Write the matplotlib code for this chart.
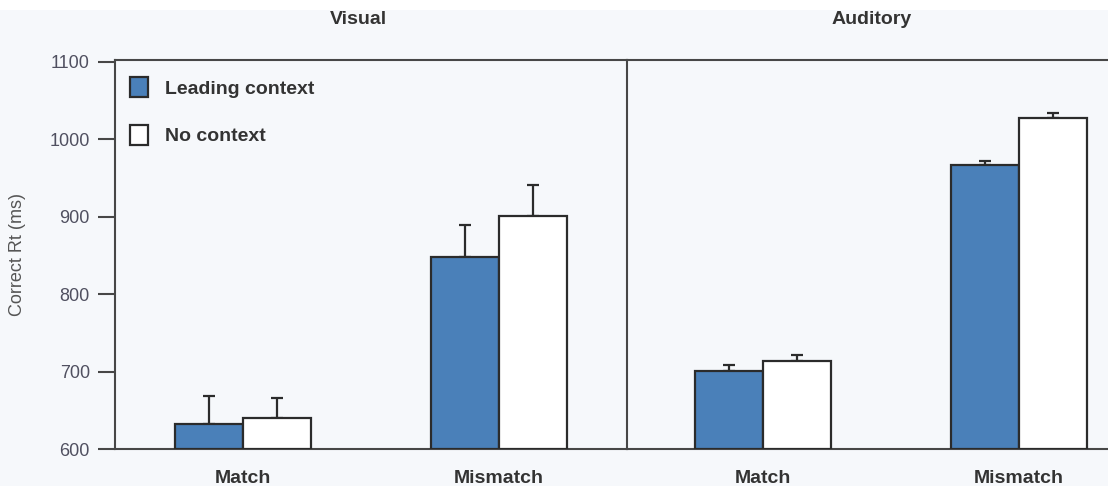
import matplotlib
matplotlib.use("Agg")
import matplotlib.pyplot as plt
from matplotlib.patches import Patch, Rectangle
import numpy as np

plt.rcParams['font.family'] = ['Liberation Sans', 'DejaVu Sans']

# Reaction times (ms) by modality, condition and context
modalities = ["Visual", "Auditory"]
conditions = ["Match", "Mismatch"]
series_names = ["Leading context", "No context"]

visual_leading = [632, 848]
visual_none = [640, 901]
auditory_leading = [701, 966]
auditory_none = [714, 1027]

visual_leading_err = [36, 41]
visual_none_err = [26, 40]
auditory_leading_err = [8, 6]
auditory_none_err = [7, 7]

y_ticks = [600, 700, 800, 900, 1000, 1100]

BG = "#f6f8fb"
BLUE = "#4a80b9"
EDGE = "#2b2b2b"
SPINE = "#474747"
TEXT = "#333333"
TICKTXT = "#505060"

W, H = 1108, 486
fig = plt.figure(figsize=(W / 100, H / 100), dpi=100, facecolor=BG)
fig.patches.append(Rectangle((0, 1 - 10 / H), 1, 10 / H, transform=fig.transFigure,
                             facecolor="white", edgecolor="none", zorder=0))

bottom = 37 / H
height = 389 / H
pw = 512 / W
ax_v = fig.add_axes([115 / W, bottom, pw, height])
ax_a = fig.add_axes([627 / W, bottom, pw, height])

panels = [
    (ax_v, visual_leading, visual_none, visual_leading_err, visual_none_err, (-0.5, 1.5)),
    (ax_a, auditory_leading, auditory_none, auditory_leading_err, auditory_none_err, (-0.53, 1.47)),
]

bw = 0.266
x = np.arange(len(conditions))
for ax, lead, none, lerr, nerr, xl in panels:
    ax.set_facecolor(BG)
    for xs, vals, errs, fc in [(x - bw / 2, lead, lerr, BLUE), (x + bw / 2, none, nerr, "white")]:
        ax.bar(xs, np.array(vals) - 600, bottom=600, width=bw, color=fc,
               edgecolor=EDGE, linewidth=1.6, zorder=3)
        ax.errorbar(xs, vals, yerr=[np.zeros(len(errs)), errs], fmt="none",
                    ecolor=EDGE, elinewidth=1.6, capsize=4.5, capthick=1.6, zorder=2)
    ax.set_xlim(*xl)
    ax.set_ylim(600, 1102)
    ax.set_xticks(x)
    ax.set_xticklabels(conditions, fontsize=14, fontweight="bold", color=TEXT)
    ax.tick_params(axis="x", length=0, pad=15)
    for s in ax.spines.values():
        s.set_color(SPINE)
        s.set_linewidth(1.5)
    ax.spines["right"].set_visible(False)

ax_v.set_yticks(y_ticks)
ax_v.set_yticklabels([str(t) for t in y_ticks], fontsize=13, color=TICKTXT)
ax_v.tick_params(axis="y", direction="out", length=12, width=1.5, color=SPINE, pad=6)
ax_a.set_yticks([])

fig.text(18 / W, 1 - 254 / H, "Correct Rt (ms)", rotation=90, ha="center", va="center",
         fontsize=13, color="#555555")
fig.text(358 / W, 1 - 20 / H, modalities[0], ha="center", va="center",
         fontsize=14, fontweight="bold", color=TEXT)
fig.text(872 / W, 1 - 20 / H, modalities[1], ha="center", va="center",
         fontsize=14, fontweight="bold", color=TEXT)

handles = [Patch(facecolor=BLUE, edgecolor=EDGE, linewidth=1.6),
           Patch(facecolor="white", edgecolor=EDGE, linewidth=1.6)]
leg = ax_v.legend(handles, series_names, loc="upper left",
                  bbox_to_anchor=(15 / 512, 1 - 17 / 389), frameon=False,
                  borderpad=0, borderaxespad=0, handlelength=0.93, handleheight=1.2,
                  handletextpad=0.88, labelspacing=1.4,
                  prop={"size": 14, "weight": "bold"})
for t in leg.get_texts():
    t.set_color(TEXT)

fig.savefig("out.png", dpi=100, facecolor=BG)
